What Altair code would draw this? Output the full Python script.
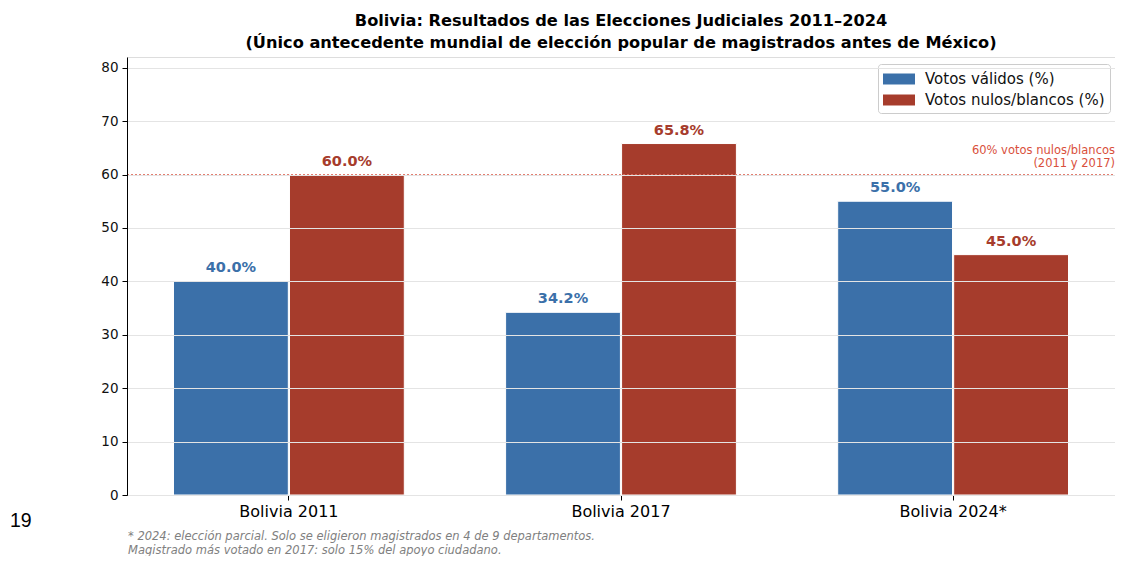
import altair as alt
import pandas as pd

categories = ["Bolivia 2011", "Bolivia 2017", "Bolivia 2024*"]
series = ["Votos válidos (%)", "Votos nulos/blancos (%)"]
validos = [40.0, 34.2, 55.0]
nulos = [60.0, 65.8, 45.0]
colors = ["#3b70a9", "#a63c2c"]
threshold = 60
title_lines = ["Bolivia: Resultados de las Elecciones Judiciales 2011–2024",
               "(Único antecedente mundial de elección popular de magistrados antes de México)"]
footnote = ["* 2024: elección parcial. Solo se eligieron magistrados en 4 de 9 departamentos.",
            "Magistrado más votado en 2017: solo 15% del apoyo ciudadano."]
annotation = ["60% votos nulos/blancos", "(2011 y 2017)"]
page_number = "19"

rows = []
for c, v, n in zip(categories, validos, nulos):
    rows.append({"cat": c, "serie": series[0], "val": v, "label": f"{v:.1f}%"})
    rows.append({"cat": c, "serie": series[1], "val": n, "label": f"{n:.1f}%"})
df = pd.DataFrame(rows)

W, H = 988, 438
FONT = "DejaVu Sans"

x = alt.X("cat:N", sort=categories,
          scale=alt.Scale(paddingInner=0.305, paddingOuter=0.14),
          axis=alt.Axis(title=None, labelAngle=0, labelFontSize=16, labelColor="#000",
                        labelFont=FONT, tickColor="#000", tickSize=5, labelPadding=3,
                        domainColor="#000", grid=False))
xoff = alt.XOffset("serie:N", sort=series, scale=alt.Scale(paddingInner=0.01))
color = alt.Color("serie:N", sort=series, scale=alt.Scale(domain=series, range=colors),
                  legend=alt.Legend(title=None, orient="none", legendX=751, legendY=7,
                                    labelFontSize=15, labelFont=FONT, labelColor="#111",
                                    labelLimit=400,
                                    symbolType="M-1,-0.55H2.2V0.55H-1Z", symbolSize=400,
                                    symbolStrokeWidth=0, fillColor="white",
                                    strokeColor="#cccccc", cornerRadius=3, padding=5,
                                    rowPadding=3, labelOffset=22))
y = alt.Y("val:Q", scale=alt.Scale(domain=[0, 82], nice=False),
          axis=alt.Axis(title=None, values=list(range(0, 90, 10)), labelFontSize=13.5,
                        labelFont=FONT, labelColor="#111", tickColor="#000", tickSize=5,
                        labelPadding=4, domainColor="#000", grid=True, gridColor="#e4e4e4",
                        gridWidth=1, zindex=1))

base = alt.Chart(df)
bars = base.mark_bar(stroke="white", strokeWidth=1).encode(x=x, xOffset=xoff, y=y, color=color)
labels = base.mark_text(baseline="bottom", dy=-6, fontSize=14.5, fontWeight="bold", font=FONT).encode(
    x=x, xOffset=xoff, y="val:Q", text="label:N",
    color=alt.Color("serie:N", sort=series, scale=alt.Scale(domain=series, range=colors), legend=None))

thr = alt.Chart(pd.DataFrame({"t": [threshold]}))
rule = thr.mark_rule(color="#e07060", strokeDash=[2, 2], strokeWidth=1, opacity=0.9).encode(
    y="t:Q", x=alt.value(0), x2=alt.value(W))
ann = thr.mark_text(align="right", baseline="alphabetic", dy=-21, fontSize=11.5, font=FONT,
                    color="#d9503c", lineHeight=13).encode(
    y="t:Q", x=alt.value(W), text=alt.value(annotation))

foot = alt.Chart(pd.DataFrame({"a": [1]})).mark_text(
    align="left", baseline="alphabetic", fontSize=11.5, font=FONT, fontStyle="italic",
    color="#808080", lineHeight=14).encode(
    x=alt.value(1), y=alt.value(483), text=alt.value(footnote))
page = alt.Chart(pd.DataFrame({"a": [1]})).mark_text(
    align="left", baseline="middle", fontSize=19.5, font="Liberation Sans", color="#000").encode(
    x=alt.value(-117), y=alt.value(464), text=alt.value(page_number))

chart = alt.layer(bars, labels, rule, ann, foot, page).properties(
    width=W, height=H,
    title=alt.TitleParams(text=title_lines, fontSize=16.2, font=FONT, fontWeight="bold",
                          color="#000", anchor="middle", offset=6, lineHeight=22),
    autosize=alt.AutoSizeParams(type="none"),
    padding={"left": 119, "top": 49, "right": 0, "bottom": 61},
).configure_view(stroke=None).configure(background="white")

chart.save("out.html", embed_options={"renderer": "svg", "actions": False})
